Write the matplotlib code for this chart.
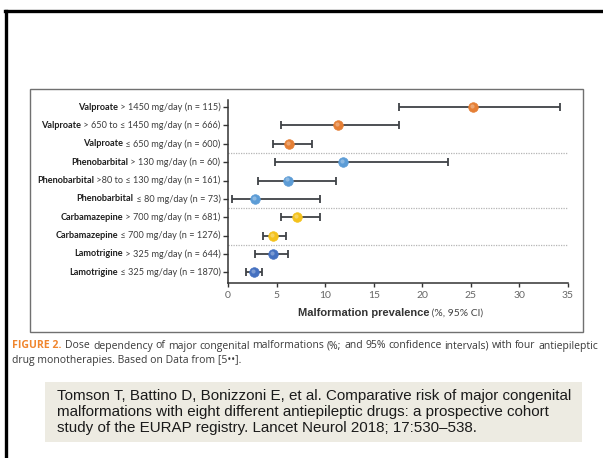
import matplotlib
matplotlib.use("Agg")
import matplotlib.pyplot as plt
from matplotlib.lines import Line2D
from matplotlib.patches import Rectangle
from matplotlib import transforms

W, H = 603, 458

drugs = ['Valproate', 'Valproate', 'Valproate',
         'Phenobarbital', 'Phenobarbital', 'Phenobarbital',
         'Carbamazepine', 'Carbamazepine',
         'Lamotrigine', 'Lamotrigine']
doses = [' > 1450 mg/day (n = 115)', ' > 650 to \u2264 1450 mg/day (n = 666)', ' \u2264 650 mg/day (n = 600)',
         ' > 130 mg/day (n = 60)', ' >80 to \u2264 130 mg/day (n = 161)', ' \u2264 80 mg/day (n = 73)',
         ' > 700 mg/day (n = 681)', ' \u2264 700 mg/day (n = 1276)',
         ' > 325 mg/day (n = 644)', ' \u2264 325 mg/day (n = 1870)']
prevalence = [25.2, 11.3, 6.3, 11.8, 6.2, 2.8, 7.1, 4.6, 4.6, 2.7]
ci_low = [17.6, 5.5, 4.6, 4.8, 3.1, 0.4, 5.5, 3.6, 2.8, 1.9]
ci_high = [34.2, 17.6, 8.6, 22.6, 11.1, 9.5, 9.5, 6.0, 6.2, 3.5]
drug_colors = {'Valproate': '#E57F35', 'Phenobarbital': '#5C9CD6',
               'Carbamazepine': '#F4C21C', 'Lamotrigine': '#4470C0'}
x_ticks = [0, 5, 10, 15, 20, 25, 30, 35]

FONT = ['Lato', 'DejaVu Sans']

fig = plt.figure(figsize=(W / 100, H / 100), dpi=100)
fig.patch.set_facecolor('white')


def fx(px):
    return px / W


def fy(py):
    return 1 - py / H


# slide frame (top and left edges only)
fig.add_artist(Line2D([fx(5), 1], [fy(11), fy(11)], color='black', lw=2.4))
fig.add_artist(Line2D([fx(6), fx(6)], [fy(11), 0], color='black', lw=2.4))

# panel box around the chart
fig.add_artist(Rectangle((fx(30), fy(332)), fx(583) - fx(30), fy(89) - fy(332),
                         fill=False, edgecolor='#707070', lw=1.0))

ax = fig.add_axes([fx(228), fy(283), fx(568) - fx(228), fy(100.5) - fy(283)])
n = len(drugs)
ypos = [n - 1 - i for i in range(n)]

for y, d, p, lo, hi in zip(ypos, drugs, prevalence, ci_low, ci_high):
    ax.errorbar(p, y, xerr=[[p - lo], [hi - p]], fmt='none', ecolor='#3f4246',
                elinewidth=1.3, capsize=3.2, capthick=1.3, zorder=2)
    c = drug_colors[d]
    ax.plot(p, y, 'o', ms=6.9, color=c, mec=c, mew=0.5, zorder=3)
    hl = transforms.offset_copy(ax.transData, fig=fig, x=-0.8, y=0.8, units='points')
    ax.plot(p, y, 'o', ms=3.0, color='white', alpha=0.3, mew=0, transform=hl, zorder=4)

# dotted separators between drug groups
for y in [6.5, 3.5, 1.5]:
    ax.axhline(y, color='#b5b5b5', lw=0.9, ls=(0, (1, 1)), zorder=1)

ax.set_xlim(0, 35)
ax.set_ylim(-0.58, 9.36)
ax.set_xticks(x_ticks)
ax.set_xticklabels([str(t) for t in x_ticks], fontsize=7.5, color='#666666', family=FONT)
ax.set_yticks(ypos)
ax.set_yticklabels([])
ax.tick_params(axis='y', length=3.5, width=1, color='#333333', direction='out')
ax.tick_params(axis='x', length=3, width=1, color='#333333', direction='out', pad=3)
for s in ['top', 'right']:
    ax.spines[s].set_visible(False)
for s in ['left', 'bottom']:
    ax.spines[s].set_color('#333333')
    ax.spines[s].set_linewidth(1.1)

# row labels: bold drug name followed by the regular dose text
label_tr = transforms.blended_transform_factory(fig.transFigure, ax.transData)
for y, d, dose in zip(ypos, drugs, doses):
    t = ax.text(fx(220.5), y, dose, transform=label_tr, ha='right', va='center',
                fontsize=6.6, color='#3c3c3c', family=FONT)
    ax.annotate(d, xy=(0, y), xycoords=(t, 'data'), ha='right', va='center',
                fontsize=6.6, fontweight='bold', color='#1e1e1e', family=FONT)

# x axis title
xt = fig.text(fx(429), fy(313), 'Malformation prevalence', ha='right', va='center',
              fontsize=8.0, fontweight='bold', color='#333333', family=['Liberation Sans', 'DejaVu Sans'])
ax.annotate(' (%, 95% CI)', xy=(1, 0.5), xycoords=xt, ha='left', va='center',
            fontsize=7.4, color='#444444', family=FONT)

# caption, first line justified across the width
fig.canvas.draw()
renderer = fig.canvas.get_renderer()
cap_font = dict(fontsize=7.5, color='#3a3a3a', family=['Open Sans', 'DejaVu Sans'])
head = fig.text(fx(12), fy(346), 'FIGURE 2.', ha='left', va='center', fontsize=7.6,
                fontweight='bold', color='#F0862E', family=['Open Sans', 'DejaVu Sans'])
words = ('Dose dependency of major congenital malformations (%; and 95% confidence '
         'intervals) with four antiepileptic').split()
head_box = head.get_window_extent(renderer)
start, end = head_box.x1 + 4, fx(598) * W
tmp = [fig.text(0, 0, w, **cap_font) for w in words]
widths = [t.get_window_extent(renderer).width for t in tmp]
for t in tmp:
    t.remove()
gap = (end - start - sum(widths)) / (len(words) - 1)
x = start
for w, wd in zip(words, widths):
    fig.text(x / W, fy(346), w, ha='left', va='center', **cap_font)
    x += wd + gap
fig.text(fx(12), fy(361), 'drug monotherapies. Based on Data from [5\u2022\u2022].',
         ha='left', va='center', **cap_font)

# reference box
fig.add_artist(Rectangle((fx(45), fy(442)), fx(582) - fx(45), fy(382) - fy(442),
                         facecolor='#EDEBE2', edgecolor='none'))
ref_lines = ['Tomson T, Battino D, Bonizzoni E, et al. Comparative risk of major congenital',
             'malformations with eight different antiepileptic drugs: a prospective cohort',
             'study of the EURAP registry. Lancet Neurol 2018; 17:530\u2013538.']
for i, line in enumerate(ref_lines):
    fig.text(fx(57), fy(396 + 16 * i), line, ha='left', va='center', fontsize=10.9,
             color='#1a1a1a', family=['Liberation Sans', 'DejaVu Sans'])

fig.savefig('out.png', dpi=100, facecolor='white')
